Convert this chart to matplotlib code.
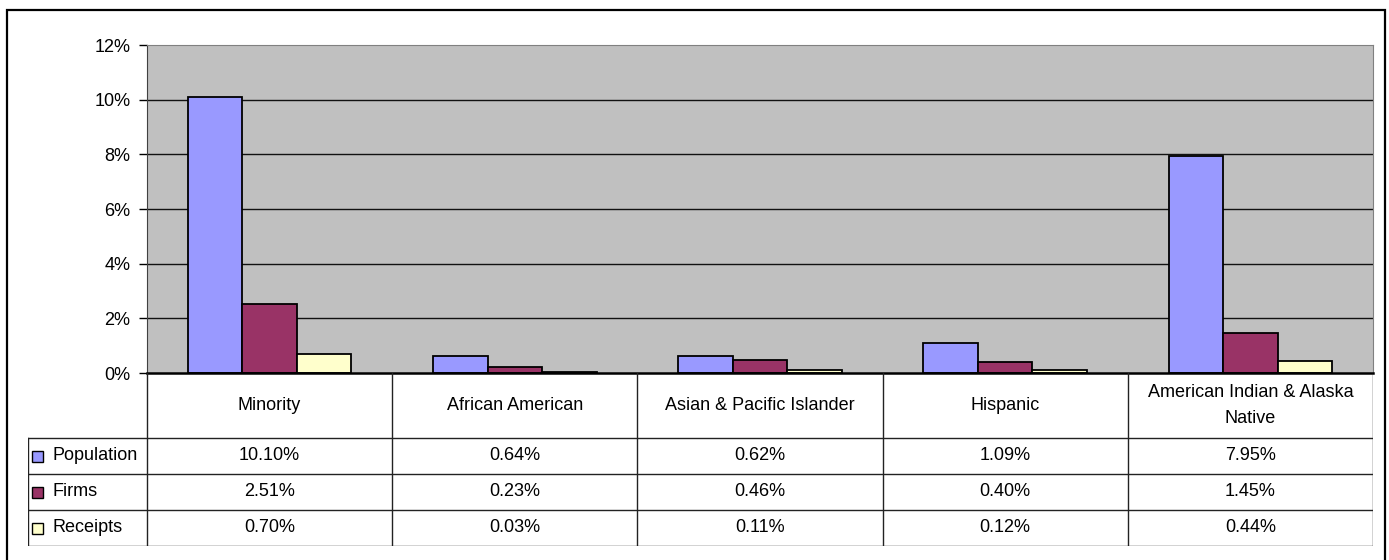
import matplotlib.pyplot as plt
from matplotlib.patches import Rectangle
from matplotlib.ticker import PercentFormatter

# data (percent)
categories = ["Minority", "African American", "Asian & Pacific Islander",
              "Hispanic", "American Indian & Alaska\nNative"]
series_names = ["Population", "Firms", "Receipts"]
population = [10.10, 0.64, 0.62, 1.09, 7.95]
firms = [2.51, 0.23, 0.46, 0.40, 1.45]
receipts = [0.70, 0.03, 0.11, 0.12, 0.44]
colors = ["#9999FF", "#993366", "#FFFFCC"]

plt.rcParams['font.family'] = ['Liberation Sans', 'DejaVu Sans']
plt.rcParams['font.size'] = 13

W, H = 1389, 560
fig = plt.figure(figsize=(W / 100, H / 100), dpi=100)


def fx(px):
    return px / W


def fy(py):
    return 1 - py / H


# plot area in pixels
plot_l, plot_r, plot_t, plot_b = 147, 1373, 45, 373
col_w = (plot_r - plot_l) / len(categories)

ax = fig.add_axes([fx(plot_l), fy(plot_b), fx(plot_r - plot_l), (plot_b - plot_t) / H])
ax.set_facecolor("#C0C0C0")

bar_w = 1 / 4.5
all_series = [population, firms, receipts]
x = list(range(len(categories)))
for i, (vals, col) in enumerate(zip(all_series, colors)):
    ax.bar([xi + (i - 1) * bar_w for xi in x], vals, width=bar_w,
           color=col, edgecolor="black", linewidth=1.3, zorder=3)

ax.set_xlim(-0.5, len(categories) - 0.5)
ax.set_ylim(0, 12)
ax.set_yticks(range(0, 13, 2))
ax.yaxis.set_major_formatter(PercentFormatter(decimals=0))
ax.set_xticks([])
for yv in range(2, 12, 2):
    ax.axhline(yv, color="#111111", linewidth=1.0, zorder=1)
ax.tick_params(axis="y", length=6, width=1, color="black", pad=6, labelsize=13)
ax.spines["top"].set_color("#808080")
ax.spines["right"].set_color("#808080")
ax.spines["left"].set_color("#404040")
ax.spines["bottom"].set_color("black")
ax.spines["bottom"].set_linewidth(1.8)
ax.spines["bottom"].set_zorder(4)

# data table underneath
leg_l = 28
leg_w = (plot_l - leg_l) / col_w
header_h, row_h = 65, 36
tab_h = header_h + row_h * 3
tax = fig.add_axes([fx(leg_l), fy(plot_b + tab_h), fx(plot_r - leg_l), tab_h / H])
tax.set_xlim(-0.5 - leg_w, len(categories) - 0.5)
tax.set_ylim(tab_h, 0)
tax.axis("off")

line_kw = dict(color="#222222", linewidth=1.0)
left_edge = -0.5 - leg_w
for k in range(len(categories) + 1):
    tax.plot([-0.5 + k, -0.5 + k], [0, tab_h], **line_kw)
tax.plot([left_edge, left_edge], [header_h, tab_h], **line_kw)
for r in range(4):
    yy = header_h + r * row_h
    tax.plot([left_edge, len(categories) - 0.5], [yy, yy], **line_kw)

for i, cat in enumerate(categories):
    tax.text(i, header_h / 2, cat, ha="center", va="center", linespacing=1.75)

px_unit = 1 / col_w
for r, (name, vals, col) in enumerate(zip(series_names, all_series, colors)):
    yc = header_h + r * row_h + row_h / 2
    tax.add_patch(Rectangle((left_edge + 4 * px_unit, yc - 5.5), 11 * px_unit, 11,
                            facecolor=col, edgecolor="black", linewidth=1.0))
    tax.text(left_edge + 24 * px_unit, yc, name, ha="left", va="center")
    for i, v in enumerate(vals):
        tax.text(i, yc, f"{v:.2f}%", ha="center", va="center")

# outer chart frame
fig.patches.append(Rectangle((fx(7), fy(600)), fx(1385 - 7), (600 - 9.5) / H,
                             transform=fig.transFigure, fill=False,
                             edgecolor="black", linewidth=1.6))

fig.savefig("out.png", dpi=100)
